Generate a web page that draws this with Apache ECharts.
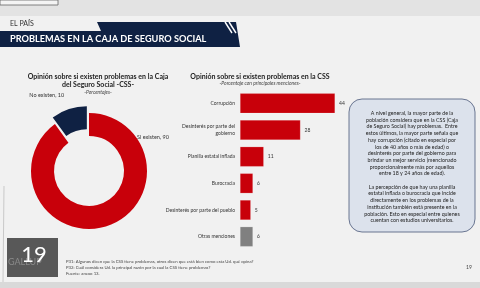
<!DOCTYPE html>
<html>
  <head>
    <meta charset="UTF-8" />
    <script src="https://cdn.jsdelivr.net/npm/echarts@6/dist/echarts.min.js"></script>
    <style>
      html, body { margin: 0; padding: 0; background: #efefef; }
      #main { width: 480px; height: 288px; }
    </style>
  </head>
  <body>
    <div id="main"></div>
    <script>
      // donut: existence of problems
      const pieNames = ['Si existen', 'No existen'];
      const pieValues = [90, 10];
      const pieColors = ['#c8000a', '#0f2143'];

      // bars: main problems mentioned
      const barCategories = [
        'Corrupción',
        'Desinterés por parte del\ngobierno',
        'Planilla estatal inflada',
        'Burocracia',
        'Desinterés por parte del pueblo',
        'Otras menciones'
      ];
      const barValues = [44, 28, 11, 6, 5, 6];
      const barColors = ['#c8000a', '#c8000a', '#c8000a', '#c8000a', '#c8000a', '#808080'];

      const noteLines = [
        'A nivel general, la mayor parte de la',
        'población considera que en la CSS (Caja',
        'de Seguro Social) hay problemas.  Entre',
        'estos últimos, la mayor parte señala que',
        'hay corrupción (citado en especial por',
        'los de 40 años o más de edad) o',
        'desinterés por parte del gobierno para',
        'brindar un mejor servicio (mencionado',
        'proporcionalmente más por aquellos',
        'entre 18 y 24 años de edad).',
        '',
        'La percepción de que hay una planilla',
        'estatal inflada o burocracia que incide',
        'directamente en los problemas de la',
        'institución también está presente en la',
        'población. Esto en especial entre quienes',
        'cuentan con estudios universitarios.'
      ];

      const footLines = [
        'P31: Algunos dicen que la CSS tiene problemas, otros dicen que está bien como esta Ud. qué opina?',
        'P32: Cuál considera Ud. la principal razón por la cual la CSS tiene problemas?',
        'Fuente: anexo 13.'
      ];

      const font = 'Lato, "Open Sans", sans-serif';
      const navy = '#0f2143';

      const chart = echarts.init(document.getElementById('main'), null, { renderer: 'canvas' });

      const option = {
        backgroundColor: '#f1f1f1',
        animation: false,
        textStyle: { fontFamily: font },
        title: [
          {
            text: 'Opinión sobre si existen problemas en la Caja\ndel Seguro Social -CSS-',
            subtext: '-Porcentajes-',
            left: 93,
            top: 67,
            textAlign: 'center',
            itemGap: 1,
            textStyle: { fontSize: 7, fontWeight: 'bold', color: '#222', lineHeight: 8.5, fontFamily: font },
            subtextStyle: { fontSize: 5, color: '#444', fontStyle: 'italic', fontFamily: font }
          },
          {
            text: 'Opinión sobre si existen problemas en la CSS',
            subtext: '-Porcentaje con principales menciones-',
            left: 255,
            top: 68,
            textAlign: 'center',
            itemGap: 1,
            textStyle: { fontSize: 7, fontWeight: 'bold', color: '#222', fontFamily: font },
            subtextStyle: { fontSize: 5, color: '#444', fontStyle: 'italic', fontFamily: font }
          }
        ],
        grid: { left: 240, top: 90, width: 108, height: 160, containLabel: false },
        xAxis: { type: 'value', min: 0, max: 50, show: false },
        yAxis: {
          type: 'category',
          data: barCategories,
          inverse: true,
          axisLine: { show: false },
          axisTick: { show: false },
          axisLabel: { fontSize: 5, color: '#333', margin: 5, lineHeight: 7, fontFamily: font }
        },
        series: [
          {
            type: 'pie',
            center: [89, 171],
            radius: [35, 58],
            startAngle: 90,
            selectedMode: 'single',
            selectedOffset: 7,
            data: pieNames.map((n, i) => ({
              name: n,
              value: pieValues[i],
              selected: i === 1,
              itemStyle: { color: pieColors[i] }
            })),
            label: {
              show: true,
              formatter: '{b}, {c}',
              fontSize: 5.5,
              color: '#333',
              overflow: 'none',
              width: 80,
              fontFamily: font
            },
            labelLine: { show: false },
            labelLayout: (p) => p.dataIndex === 1
              ? { x: 33, y: 104, align: 'left', verticalAlign: 'middle' }
              : { x: 137, y: 137, align: 'left', verticalAlign: 'middle' },
            emphasis: { disabled: true }
          },
          {
            type: 'bar',
            barCategoryGap: '25%',
            data: barValues.map((v, i) => ({ value: v, itemStyle: { color: barColors[i] } })),
            itemStyle: { borderColor: 'rgba(255,255,255,0.35)', borderWidth: 0.5 },
            label: { show: true, position: 'right', distance: 4, fontSize: 5, color: '#333', fontFamily: font },
            emphasis: { disabled: true }
          }
        ],
        graphic: [
          // top strip
          { type: 'rect', shape: { x: 0, y: 0, width: 480, height: 16 }, style: { fill: '#e3e3e3' }, z: -10 },
          { type: 'rect', shape: { x: 0, y: 0, width: 58, height: 5 }, style: { fill: '#f4f4f4', stroke: '#666', lineWidth: 0.8 }, z: -9 },
          // bottom strip
          { type: 'rect', shape: { x: 0, y: 282, width: 480, height: 6 }, style: { fill: '#d9d9d9' }, z: -10 },
          // header
          { type: 'polygon', shape: { points: [[97, 22], [236, 22], [240, 47], [0, 47], [0, 31], [101, 31]] }, style: { fill: navy } },
          { type: 'polyline', shape: { points: [[225, 22], [232, 33]] }, style: { stroke: '#fff', lineWidth: 1.4 } },
          { type: 'polyline', shape: { points: [[229, 22], [236, 33]] }, style: { stroke: '#fff', lineWidth: 1.4 } },
          { type: 'text', x: 10, y: 20, style: { text: 'EL PAÍS', fontSize: 7, fill: '#333', fontFamily: font } },
          { type: 'text', x: 10, y: 34.5, style: { text: 'PROBLEMAS EN LA CAJA DE SEGURO SOCIAL', fontSize: 9.2, fontWeight: 'bold', fill: '#fff', fontFamily: font } },
          // note box
          { type: 'rect', shape: { x: 349, y: 99, width: 126, height: 133, r: 13 }, style: { fill: '#dce2ec', stroke: '#4a5878', lineWidth: 0.8 } },
          {
            type: 'text', x: 412, y: 110,
            style: { text: noteLines.join('\n'), fontSize: 5.3, lineHeight: 6.7, fill: '#222', align: 'center', fontFamily: font }
          },
          // footnotes
          { type: 'text', x: 66, y: 259, style: { text: footLines.join('\n'), fontSize: 4.3, lineHeight: 5.7, fill: '#444', fontFamily: font } },
          { type: 'text', x: 466, y: 265, style: { text: '19', fontSize: 5, fill: '#444', fontFamily: font } },
          // gallup page box
          { type: 'rect', shape: { x: 7, y: 238, width: 51, height: 39 }, style: { fill: '#585858' } },
          { type: 'text', x: 8, y: 258, style: { text: 'GALLUP', fontSize: 9, fill: '#8a8a8a', fontFamily: font } },
          { type: 'text', x: 34, y: 244, style: { text: '19', fontSize: 22, fill: '#fff', align: 'center', fontFamily: font } },
          // left slide edge
          { type: 'polyline', shape: { points: [[4, 186], [3, 282]] }, style: { stroke: '#c9c9c9', lineWidth: 1 } }
        ]
      };

      chart.setOption(option);
    </script>
  </body>
</html>
